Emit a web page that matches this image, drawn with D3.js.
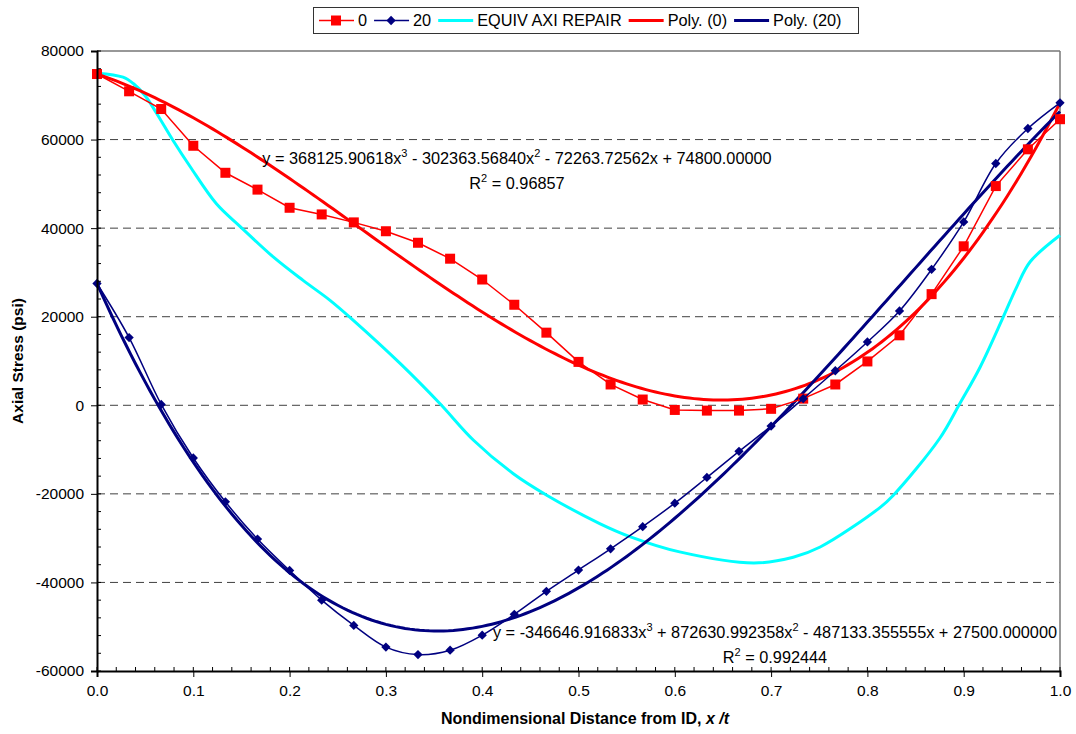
<!DOCTYPE html>
<html>
<head>
<meta charset="utf-8">
<script src="https://cdn.jsdelivr.net/npm/d3@7"></script>
<style>
  body { margin: 0; background: #fff; }
  svg text { font-family: "Liberation Sans", Arial, sans-serif; }
</style>
</head>
<body>
<script>
// x positions of the measured points (x/t)
const xPts = d3.range(31).map(i => i / 30);

// series "0" (psi)
const s0 = [74800, 70900, 66900, 58600, 52500, 48700, 44600, 43100, 41300, 39300, 36700,
    33100, 28400, 22700, 16400, 9800, 4700, 1300, -1050, -1200, -1200,
    -800, 1500, 4700, 9900, 15800, 25100, 35900, 49500, 57800, 64600];

// series "20" (psi)
const s20 = [27500, 15300, 200, -11900, -21800, -30200, -37300, -44000, -49700, -54600, -56300,
    -55300, -51900, -47200, -42000, -37200, -32400, -27400, -22100, -16300, -10400,
    -4700, 1500, 7800, 14300, 21300, 30700, 41400, 54600, 62500, 68300];

// EQUIV AXI REPAIR curve
const axiX = [0, 0.027, 0.038, 0.05, 0.062, 0.079, 0.097, 0.124, 0.149, 0.183, 0.214, 0.242,
    0.263, 0.315, 0.356, 0.391, 0.432, 0.467, 0.522, 0.554, 0.605, 0.682, 0.723, 0.751,
    0.813, 0.827, 0.875, 0.896, 0.917, 0.941, 0.955, 0.969, 1.0];
const axiY = [75000, 74100, 72600, 69900, 65900, 59800, 53800, 45500, 40300, 33500, 28200, 23700,
    19800, 9400, 400, -7900, -15400, -20300, -26700, -29700, -33100, -35600, -34300, -32000,
    -23100, -20300, -7500, 400, 8600, 19900, 26700, 32400, 38400];

// trendline coefficients (x^3, x^2, x, const)
const poly0 = [368125.90618, -302363.56840, -72263.72562, 74800.00000];
const poly20 = [-346646.916833, 872630.992358, -487133.355555, 27500.000000];

const xTicks = d3.range(0, 1.0001, 0.1);
const yTicks = d3.range(-60000, 80001, 20000);

const W = 1076, H = 734;
const pLeft = 97, pRight = 1060, pTop = 51, pBottom = 671;

const svg = d3.select("body").append("svg")
    .attr("width", W).attr("height", H);

const x = d3.scaleLinear().domain([0, 1]).range([pLeft, pRight]);
const y = d3.scaleLinear().domain([-60000, 80000]).range([pBottom, pTop]);

// dashed gridlines
svg.append("g").selectAll("line")
    .data(yTicks.filter(v => v > -60000 && v < 80000))
    .enter().append("line")
    .attr("x1", pLeft).attr("x2", pRight)
    .attr("y1", d => y(d)).attr("y2", d => y(d))
    .attr("stroke", "#404040").attr("stroke-width", 1)
    .attr("stroke-dasharray", "8,5");

// plot area border (top, right)
svg.append("line").attr("x1", pLeft).attr("x2", pRight).attr("y1", pTop).attr("y2", pTop)
    .attr("stroke", "#333").attr("stroke-width", 1.2);
svg.append("line").attr("x1", pRight).attr("x2", pRight).attr("y1", pTop).attr("y2", pBottom)
    .attr("stroke", "#777").attr("stroke-width", 1.5);

const poly = (c, t) => c[0] * t * t * t + c[1] * t * t + c[2] * t + c[3];
const fine = d3.range(0, 1.0001, 0.005);

const line = d3.line().x(d => x(d[0])).y(d => y(d[1]));

// EQUIV AXI REPAIR
svg.append("path")
    .datum(axiX.map((v, i) => [v, axiY[i]]))
    .attr("fill", "none").attr("stroke", "#00FFFF").attr("stroke-width", 3)
    .attr("d", d3.line().x(d => x(d[0])).y(d => y(d[1])).curve(d3.curveCatmullRom.alpha(0.5)));

// trendlines
svg.append("path")
    .datum(fine.map(t => [t, poly(poly0, t)]))
    .attr("fill", "none").attr("stroke", "#FF0000").attr("stroke-width", 3)
    .attr("d", line);
svg.append("path")
    .datum(fine.map(t => [t, poly(poly20, t)]))
    .attr("fill", "none").attr("stroke", "#000080").attr("stroke-width", 3)
    .attr("d", line);

// series 0
svg.append("path")
    .datum(xPts.map((v, i) => [v, s0[i]]))
    .attr("fill", "none").attr("stroke", "#FF0000").attr("stroke-width", 1.5)
    .attr("d", line);
svg.append("g").selectAll("rect")
    .data(xPts.map((v, i) => [v, s0[i]]))
    .enter().append("rect")
    .attr("x", d => x(d[0]) - 5).attr("y", d => y(d[1]) - 5)
    .attr("width", 10).attr("height", 10)
    .attr("fill", "#FF0000");

// series 20
svg.append("path")
    .datum(xPts.map((v, i) => [v, s20[i]]))
    .attr("fill", "none").attr("stroke", "#000080").attr("stroke-width", 1.5)
    .attr("d", d3.line().x(d => x(d[0])).y(d => y(d[1])).curve(d3.curveCatmullRom.alpha(0.5)));
const diamond = d3.symbol().type(d3.symbolDiamond2).size(55);
svg.append("g").selectAll("path")
    .data(xPts.map((v, i) => [v, s20[i]]))
    .enter().append("path")
    .attr("transform", d => `translate(${x(d[0])},${y(d[1])})`)
    .attr("d", diamond)
    .attr("fill", "#000080");

// axes
const yMinor = d3.range(-60000, 80001, 4000);
svg.append("g").selectAll("line").data(yMinor).enter().append("line")
    .attr("x1", pLeft).attr("x2", pLeft + 4)
    .attr("y1", d => y(d)).attr("y2", d => y(d))
    .attr("stroke", "#000");
const xMinor = d3.range(0, 1.0001, 0.02);
svg.append("g").selectAll("line").data(xMinor).enter().append("line")
    .attr("x1", d => x(d)).attr("x2", d => x(d))
    .attr("y1", pBottom).attr("y2", pBottom - 4)
    .attr("stroke", "#000");

const yAxis = svg.append("g")
    .attr("transform", `translate(${pLeft},0)`)
    .call(d3.axisLeft(y).tickValues(yTicks).tickFormat(d => String(d)).tickSize(6).tickPadding(7));
const xAxis = svg.append("g")
    .attr("transform", `translate(0,${pBottom})`)
    .call(d3.axisBottom(x).tickValues(xTicks).tickFormat(d => d.toFixed(1)).tickSize(6).tickPadding(8));
[yAxis, xAxis].forEach(g => {
    g.select(".domain").attr("stroke", "#000").attr("stroke-width", 2);
    g.selectAll(".tick line").attr("stroke", "#000");
    g.selectAll("text").attr("font-size", 15.5).attr("fill", "#000")
        .style("font-family", "Liberation Sans, Arial, sans-serif");
});

// axis titles
svg.append("text")
    .attr("transform", `translate(23,${(pTop + pBottom) / 2}) rotate(-90)`)
    .attr("text-anchor", "middle")
    .attr("font-size", 15.5).attr("font-weight", "bold")
    .text("Axial Stress (psi)");
const xt = svg.append("text")
    .attr("x", 585).attr("y", 724)
    .attr("text-anchor", "middle")
    .attr("font-size", 16).attr("font-weight", "bold");
xt.append("tspan").text("Nondimensional Distance from ID, ");
xt.append("tspan").attr("font-style", "italic").text("x /t");

// trendline equations
function equation(cx, by, coef, dec, r2) {
    const f = d3.format("." + dec + "f");
    const sgn = v => (v < 0 ? " - " : " + ");
    const t = svg.append("text").attr("x", cx).attr("y", by)
        .attr("text-anchor", "middle").attr("font-size", 16.3);
    t.append("tspan").text("y = " + (coef[0] < 0 ? "-" : "") + f(Math.abs(coef[0])) + "x");
    t.append("tspan").attr("dy", -7).attr("font-size", 11).text("3");
    t.append("tspan").attr("dy", 7).text(sgn(coef[1]) + f(Math.abs(coef[1])) + "x");
    t.append("tspan").attr("dy", -7).attr("font-size", 11).text("2");
    t.append("tspan").attr("dy", 7).text(sgn(coef[2]) + f(Math.abs(coef[2])) + "x" +
        sgn(coef[3]) + f(Math.abs(coef[3])));
    const r = svg.append("text").attr("x", cx).attr("y", by + 25)
        .attr("text-anchor", "middle").attr("font-size", 16.3);
    r.append("tspan").text("R");
    r.append("tspan").attr("dy", -7).attr("font-size", 11).text("2");
    r.append("tspan").attr("dy", 7).text(" = " + r2);
}
equation(517, 164, poly0, 5, "0.96857");
equation(775, 638, poly20, 6, "0.992444");

// legend
const legendItems = [
    {name: "0", color: "#FF0000", w: 1.5, mark: "square"},
    {name: "20", color: "#000080", w: 1.5, mark: "diamond"},
    {name: "EQUIV AXI REPAIR", color: "#00FFFF", w: 3, mark: null},
    {name: "Poly. (0)", color: "#FF0000", w: 3, mark: null},
    {name: "Poly. (20)", color: "#000080", w: 3, mark: null}
];
const lg = svg.append("g");
lg.append("rect").attr("x", 313.5).attr("y", 7.5).attr("width", 545).attr("height", 26)
    .attr("fill", "#fff").attr("stroke", "#333").attr("stroke-width", 1);
let lx = 319;
legendItems.forEach(it => {
    lg.append("line").attr("x1", lx).attr("x2", lx + 35).attr("y1", 20.5).attr("y2", 20.5)
        .attr("stroke", it.color).attr("stroke-width", it.w);
    if (it.mark === "square") {
        lg.append("rect").attr("x", lx + 12).attr("y", 15.5).attr("width", 10).attr("height", 10)
            .attr("fill", it.color);
    } else if (it.mark === "diamond") {
        lg.append("path").attr("transform", `translate(${lx + 17},20.5)`).attr("d", diamond)
            .attr("fill", it.color);
    }
    const t = lg.append("text").attr("x", lx + 39).attr("y", 26).attr("font-size", 16.3)
        .text(it.name);
    lx += 39 + t.node().getComputedTextLength() + 7;
});
</script>
</body>
</html>
